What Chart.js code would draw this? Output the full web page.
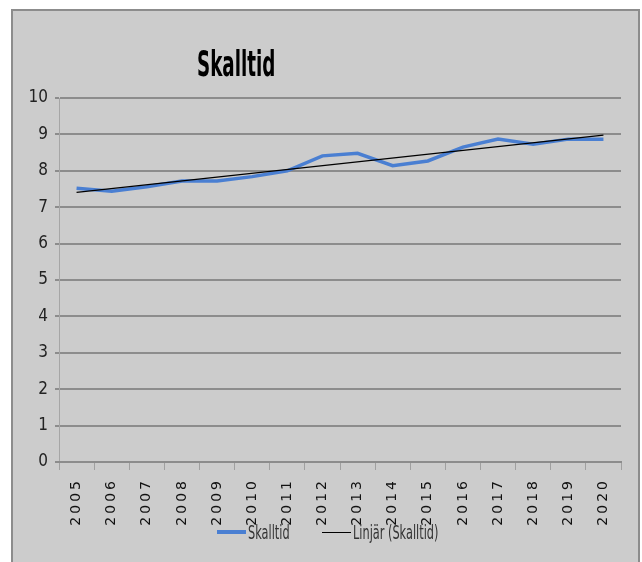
<!DOCTYPE html>
<html lang="sv">
<head>
  <meta charset="UTF-8">
  <title>Skalltid</title>
  <script src="https://cdn.jsdelivr.net/npm/chart.js"></script>
  <style>
        body {
            margin: 0;
            background-color: #ffffff;
            overflow: hidden;
        }

        #box {
            position: absolute;
            left: 11px;
            top: 9px;
            width: 625px;
            height: 600px;
            background-color: #cccccc;
            border: 2px solid #8c8c8c;
        }

        #title {
            position: absolute;
            left: 184px;
            top: 32px;
            font-family: 'Liberation Sans Narrow', 'DejaVu Sans Condensed', sans-serif;
            font-weight: bold;
            font-size: 36px;
            color: #000000;
            transform: scaleX(0.565);
            transform-origin: left top;
            white-space: nowrap;
        }

        canvas {
            position: absolute;
            left: 0;
            top: 0;
        }

        .item {
            position: absolute;
            top: 509px;
            height: 24px;
            display: flex;
            align-items: center;
            white-space: nowrap;
        }

        .item span.line {
            display: inline-block;
            width: 29px;
            margin-right: 2px;
        }

        .item span.text {
            display: inline-block;
            font-family: 'Liberation Sans Narrow', 'DejaVu Sans Condensed', sans-serif;
            font-size: 20px;
            color: #333333;
            transform: scaleX(0.63);
            transform-origin: left center;
        }
    </style>
</head>
<body>
<div id="box">
  <canvas id="chart" width="625" height="600"></canvas>
  <div id="title">Skalltid</div>
  <div id="legend"></div>
</div>
<script>
    const years = ['2005', '2006', '2007', '2008', '2009', '2010', '2011', '2012',
                   '2013', '2014', '2015', '2016', '2017', '2018', '2019', '2020'];
    const skalltid = [7.52, 7.44, 7.56, 7.72, 7.72, 7.84, 8.0, 8.41,
                      8.48, 8.14, 8.27, 8.65, 8.87, 8.73, 8.87, 8.87];
    // trendline end points
    const trendYears = ['2005', '2020'];
    const trendValues = [7.41, 8.98];
    const yTicks = [0, 1, 2, 3, 4, 5, 6, 7, 8, 9, 10];

    const narrow = "'Liberation Sans Narrow', 'DejaVu Sans Condensed', sans-serif";

    // x labels are drawn after the datasets (ticks.z = 1) with wide letter spacing
    const spacing = {
        id: 'spacing',
        afterDatasetsDraw(chart) {
            chart.ctx.letterSpacing = '3px';
        },
        afterDraw(chart) {
            chart.ctx.letterSpacing = '0px';
        }
    };

    const ctx = document.getElementById('chart').getContext('2d');
    const chart = new Chart(ctx, {
        type: 'line',
        data: {
            labels: years,
            datasets: [{
                label: 'Skalltid',
                data: skalltid,
                borderColor: '#4a7fd2',
                backgroundColor: '#4a7fd2',
                borderWidth: 3.5,
                pointRadius: 0,
                tension: 0,
                order: 2
            }, {
                label: 'Linjär (Skalltid)',
                data: trendYears.map((y, i) => ({ x: y, y: trendValues[i] })),
                borderColor: '#000000',
                backgroundColor: '#000000',
                borderWidth: 1.3,
                pointRadius: 0,
                tension: 0,
                order: 1
            }]
        },
        options: {
            responsive: false,
            animation: false,
            layout: {
                padding: { top: 87, right: 17, left: 0, bottom: 49 }
            },
            plugins: {
                title: { display: false },
                tooltip: { enabled: false },
                legend: { display: false }
            },
            scales: {
                y: {
                    min: 0,
                    max: 10,
                    afterBuildTicks: (scale) => {
                        scale.ticks = yTicks.map(v => ({ value: v }));
                    },
                    afterFit: (scale) => {
                        scale.width = 46;
                    },
                    ticks: {
                        color: '#222222',
                        padding: 7,
                        font: { family: narrow, size: 17 }
                    },
                    grid: {
                        color: '#8c8c8c',
                        lineWidth: 2,
                        tickLength: 4
                    },
                    border: {
                        color: '#a6a6a6',
                        width: 1
                    }
                },
                x: {
                    offset: true,
                    afterFit: (scale) => {
                        scale.height = 100;
                    },
                    ticks: {
                        color: '#111111',
                        minRotation: 90,
                        maxRotation: 90,
                        autoSkip: false,
                        padding: 8,
                        z: 1,
                        font: { family: 'DejaVu Sans', size: 14 }
                    },
                    grid: {
                        offset: true,
                        drawOnChartArea: false,
                        color: '#a0a0a0',
                        lineWidth: 1,
                        tickLength: 8
                    },
                    border: {
                        color: '#8c8c8c',
                        width: 2
                    }
                }
            }
        },
        plugins: [spacing]
    });

    // legend as html, placed over the axis labels like in the original
    const legendLeft = [204, 309];
    const legend = document.getElementById('legend');
    chart.data.datasets.forEach((ds, i) => {
        const item = document.createElement('div');
        item.className = 'item';
        item.style.left = legendLeft[i] + 'px';
        const line = document.createElement('span');
        line.className = 'line';
        line.style.borderTop = Math.max(1, Math.round(ds.borderWidth)) + 'px solid ' + ds.borderColor;
        const text = document.createElement('span');
        text.className = 'text';
        text.textContent = ds.label;
        item.appendChild(line);
        item.appendChild(text);
        legend.appendChild(item);
    });
</script>
</body>
</html>
